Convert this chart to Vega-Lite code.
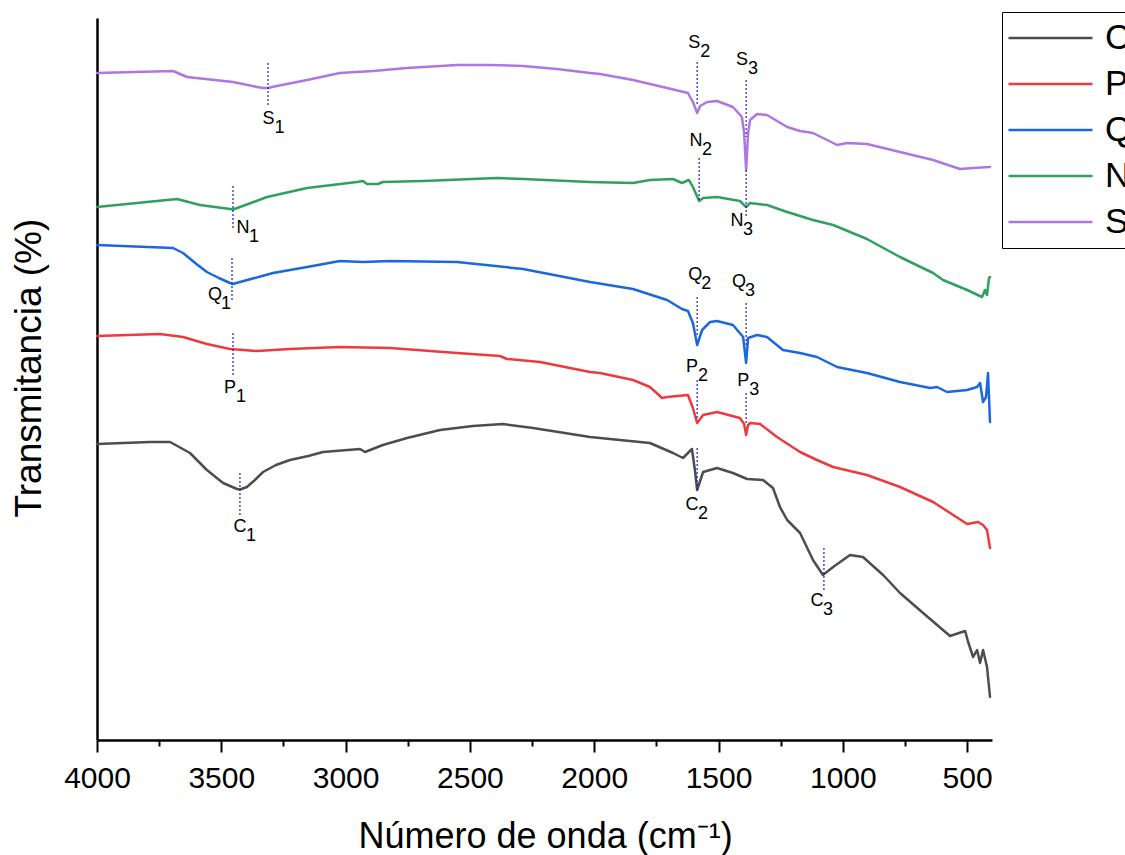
{
  "$schema": "https://vega.github.io/schema/vega-lite/v6.json",
  "width": 895,
  "height": 722,
  "autosize": {"type": "none"},
  "padding": {"left": 97, "top": 18, "right": 133, "bottom": 115},
  "background": "white",
  "config": {"view": {"stroke": null}, "font": "Liberation Sans"},
  "datasets": {
    "spectra": [
      {"s": "C", "wn": 4000, "t": 29.6}, {"s": "C", "wn": 3787, "t": 29.8}, {"s": "C", "wn": 3706, "t": 29.8}, {"s": "C", "wn": 3626, "t": 28.7},
      {"s": "C", "wn": 3558, "t": 27.0}, {"s": "C", "wn": 3493, "t": 25.7}, {"s": "C", "wn": 3437, "t": 25.1}, {"s": "C", "wn": 3425, "t": 25.05},
      {"s": "C", "wn": 3397, "t": 25.3}, {"s": "C", "wn": 3365, "t": 26.0}, {"s": "C", "wn": 3332, "t": 26.8}, {"s": "C", "wn": 3280, "t": 27.5},
      {"s": "C", "wn": 3224, "t": 28.0}, {"s": "C", "wn": 3150, "t": 28.4}, {"s": "C", "wn": 3091, "t": 28.8},
      {"s": "C", "wn": 2942, "t": 29.1}, {"s": "C", "wn": 2922, "t": 28.8}, {"s": "C", "wn": 2850, "t": 29.5}, {"s": "C", "wn": 2753, "t": 30.2},
      {"s": "C", "wn": 2620, "t": 31.0}, {"s": "C", "wn": 2488, "t": 31.4}, {"s": "C", "wn": 2367, "t": 31.6}, {"s": "C", "wn": 2246, "t": 31.2},
      {"s": "C", "wn": 2017, "t": 30.3}, {"s": "C", "wn": 1977, "t": 30.2}, {"s": "C", "wn": 1776, "t": 29.7}, {"s": "C", "wn": 1683, "t": 28.7},
      {"s": "C", "wn": 1643, "t": 28.2}, {"s": "C", "wn": 1607, "t": 29.1}, {"s": "C", "wn": 1595, "t": 27.0}, {"s": "C", "wn": 1586, "t": 25.0},
      {"s": "C", "wn": 1562, "t": 26.8}, {"s": "C", "wn": 1506, "t": 27.2}, {"s": "C", "wn": 1442, "t": 26.7}, {"s": "C", "wn": 1385, "t": 26.1},
      {"s": "C", "wn": 1321, "t": 26.0}, {"s": "C", "wn": 1281, "t": 25.2}, {"s": "C", "wn": 1253, "t": 23.3}, {"s": "C", "wn": 1224, "t": 22.0},
      {"s": "C", "wn": 1172, "t": 20.7}, {"s": "C", "wn": 1120, "t": 18.0}, {"s": "C", "wn": 1080, "t": 16.5}, {"s": "C", "wn": 1039, "t": 17.3},
      {"s": "C", "wn": 971, "t": 18.5}, {"s": "C", "wn": 919, "t": 18.3}, {"s": "C", "wn": 838, "t": 16.5}, {"s": "C", "wn": 770, "t": 14.7},
      {"s": "C", "wn": 677, "t": 12.7}, {"s": "C", "wn": 569, "t": 10.4}, {"s": "C", "wn": 508, "t": 10.9}, {"s": "C", "wn": 496, "t": 9.8},
      {"s": "C", "wn": 476, "t": 8.3}, {"s": "C", "wn": 460, "t": 9.0}, {"s": "C", "wn": 448, "t": 7.7}, {"s": "C", "wn": 436, "t": 9.0},
      {"s": "C", "wn": 420, "t": 7.3}, {"s": "C", "wn": 408, "t": 4.3},

      {"s": "P", "wn": 4000, "t": 40.4}, {"s": "P", "wn": 3747, "t": 40.6}, {"s": "P", "wn": 3654, "t": 40.3}, {"s": "P", "wn": 3558, "t": 39.6},
      {"s": "P", "wn": 3465, "t": 39.1}, {"s": "P", "wn": 3356, "t": 38.9}, {"s": "P", "wn": 3224, "t": 39.1}, {"s": "P", "wn": 3023, "t": 39.3},
      {"s": "P", "wn": 2821, "t": 39.2}, {"s": "P", "wn": 2552, "t": 38.7}, {"s": "P", "wn": 2379, "t": 38.4}, {"s": "P", "wn": 2351, "t": 38.1},
      {"s": "P", "wn": 2218, "t": 37.8}, {"s": "P", "wn": 2017, "t": 36.8}, {"s": "P", "wn": 1977, "t": 36.7}, {"s": "P", "wn": 1844, "t": 36.0},
      {"s": "P", "wn": 1776, "t": 35.3}, {"s": "P", "wn": 1727, "t": 34.2}, {"s": "P", "wn": 1707, "t": 34.3}, {"s": "P", "wn": 1623, "t": 34.5},
      {"s": "P", "wn": 1603, "t": 33.2}, {"s": "P", "wn": 1586, "t": 31.7}, {"s": "P", "wn": 1562, "t": 32.5}, {"s": "P", "wn": 1506, "t": 32.8},
      {"s": "P", "wn": 1414, "t": 32.2}, {"s": "P", "wn": 1397, "t": 31.6}, {"s": "P", "wn": 1389, "t": 30.5}, {"s": "P", "wn": 1381, "t": 31.5},
      {"s": "P", "wn": 1373, "t": 31.7}, {"s": "P", "wn": 1333, "t": 31.6}, {"s": "P", "wn": 1265, "t": 30.3}, {"s": "P", "wn": 1172, "t": 28.8},
      {"s": "P", "wn": 1104, "t": 28.0}, {"s": "P", "wn": 1039, "t": 27.3}, {"s": "P", "wn": 903, "t": 26.5}, {"s": "P", "wn": 770, "t": 25.3},
      {"s": "P", "wn": 637, "t": 23.8}, {"s": "P", "wn": 500, "t": 21.6}, {"s": "P", "wn": 456, "t": 21.8}, {"s": "P", "wn": 436, "t": 21.5},
      {"s": "P", "wn": 420, "t": 21.0}, {"s": "P", "wn": 408, "t": 19.2},

      {"s": "Q", "wn": 4000, "t": 49.5}, {"s": "Q", "wn": 3694, "t": 49.2}, {"s": "Q", "wn": 3654, "t": 48.7}, {"s": "Q", "wn": 3600, "t": 47.6},
      {"s": "Q", "wn": 3558, "t": 46.8}, {"s": "Q", "wn": 3510, "t": 46.2},
      {"s": "Q", "wn": 3465, "t": 45.7}, {"s": "Q", "wn": 3453, "t": 45.6}, {"s": "Q", "wn": 3425, "t": 45.8}, {"s": "Q", "wn": 3292, "t": 46.7},
      {"s": "Q", "wn": 3155, "t": 47.3}, {"s": "Q", "wn": 3023, "t": 47.9}, {"s": "Q", "wn": 2930, "t": 47.8}, {"s": "Q", "wn": 2821, "t": 47.9},
      {"s": "Q", "wn": 2552, "t": 47.8}, {"s": "Q", "wn": 2286, "t": 47.1}, {"s": "Q", "wn": 2017, "t": 45.8}, {"s": "Q", "wn": 1844, "t": 45.1},
      {"s": "Q", "wn": 1707, "t": 44.0}, {"s": "Q", "wn": 1647, "t": 43.1}, {"s": "Q", "wn": 1623, "t": 42.9}, {"s": "Q", "wn": 1603, "t": 41.7},
      {"s": "Q", "wn": 1586, "t": 39.5}, {"s": "Q", "wn": 1566, "t": 41.0}, {"s": "Q", "wn": 1534, "t": 41.8}, {"s": "Q", "wn": 1506, "t": 41.9},
      {"s": "Q", "wn": 1442, "t": 41.5}, {"s": "Q", "wn": 1401, "t": 40.3}, {"s": "Q", "wn": 1389, "t": 37.7}, {"s": "Q", "wn": 1381, "t": 40.2},
      {"s": "Q", "wn": 1345, "t": 40.5}, {"s": "Q", "wn": 1305, "t": 40.3}, {"s": "Q", "wn": 1241, "t": 39.0}, {"s": "Q", "wn": 1172, "t": 38.7},
      {"s": "Q", "wn": 1104, "t": 38.3}, {"s": "Q", "wn": 1023, "t": 37.3}, {"s": "Q", "wn": 903, "t": 36.7}, {"s": "Q", "wn": 770, "t": 35.8},
      {"s": "Q", "wn": 649, "t": 35.2}, {"s": "Q", "wn": 621, "t": 35.3}, {"s": "Q", "wn": 581, "t": 34.8}, {"s": "Q", "wn": 500, "t": 35.0},
      {"s": "Q", "wn": 460, "t": 35.3}, {"s": "Q", "wn": 448, "t": 35.7}, {"s": "Q", "wn": 436, "t": 33.8}, {"s": "Q", "wn": 424, "t": 34.3},
      {"s": "Q", "wn": 416, "t": 36.7}, {"s": "Q", "wn": 408, "t": 31.8},

      {"s": "N", "wn": 4000, "t": 53.3}, {"s": "N", "wn": 3678, "t": 54.1}, {"s": "N", "wn": 3586, "t": 53.5}, {"s": "N", "wn": 3465, "t": 53.1},
      {"s": "N", "wn": 3453, "t": 53.05}, {"s": "N", "wn": 3425, "t": 53.3}, {"s": "N", "wn": 3316, "t": 54.3}, {"s": "N", "wn": 3155, "t": 55.2},
      {"s": "N", "wn": 2954, "t": 55.8}, {"s": "N", "wn": 2930, "t": 55.9}, {"s": "N", "wn": 2914, "t": 55.6}, {"s": "N", "wn": 2870, "t": 55.6},
      {"s": "N", "wn": 2850, "t": 55.8}, {"s": "N", "wn": 2689, "t": 55.9}, {"s": "N", "wn": 2391, "t": 56.2}, {"s": "N", "wn": 2286, "t": 56.1},
      {"s": "N", "wn": 2017, "t": 55.8}, {"s": "N", "wn": 1844, "t": 55.7}, {"s": "N", "wn": 1776, "t": 56.0}, {"s": "N", "wn": 1683, "t": 56.1},
      {"s": "N", "wn": 1647, "t": 55.7}, {"s": "N", "wn": 1619, "t": 56.0}, {"s": "N", "wn": 1603, "t": 55.3}, {"s": "N", "wn": 1578, "t": 53.9},
      {"s": "N", "wn": 1562, "t": 54.2}, {"s": "N", "wn": 1506, "t": 54.3}, {"s": "N", "wn": 1414, "t": 53.9}, {"s": "N", "wn": 1389, "t": 53.3},
      {"s": "N", "wn": 1373, "t": 53.7}, {"s": "N", "wn": 1305, "t": 53.5}, {"s": "N", "wn": 1224, "t": 52.8}, {"s": "N", "wn": 1120, "t": 52.0},
      {"s": "N", "wn": 1039, "t": 51.5}, {"s": "N", "wn": 903, "t": 50.1}, {"s": "N", "wn": 770, "t": 48.3}, {"s": "N", "wn": 637, "t": 46.7},
      {"s": "N", "wn": 597, "t": 46.0}, {"s": "N", "wn": 500, "t": 45.0}, {"s": "N", "wn": 440, "t": 44.3}, {"s": "N", "wn": 428, "t": 45.0},
      {"s": "N", "wn": 420, "t": 44.5}, {"s": "N", "wn": 412, "t": 46.2}, {"s": "N", "wn": 408, "t": 46.3},

      {"s": "S", "wn": 4000, "t": 66.7}, {"s": "S", "wn": 3694, "t": 66.9}, {"s": "S", "wn": 3638, "t": 66.3}, {"s": "S", "wn": 3453, "t": 65.8},
      {"s": "S", "wn": 3356, "t": 65.3}, {"s": "S", "wn": 3332, "t": 65.2}, {"s": "S", "wn": 3312, "t": 65.2}, {"s": "S", "wn": 3296, "t": 65.3},
      {"s": "S", "wn": 3155, "t": 66.0}, {"s": "S", "wn": 3023, "t": 66.7}, {"s": "S", "wn": 2890, "t": 66.9}, {"s": "S", "wn": 2753, "t": 67.2},
      {"s": "S", "wn": 2552, "t": 67.5}, {"s": "S", "wn": 2419, "t": 67.5}, {"s": "S", "wn": 2286, "t": 67.4}, {"s": "S", "wn": 2150, "t": 67.1},
      {"s": "S", "wn": 2017, "t": 66.7}, {"s": "S", "wn": 1977, "t": 66.6}, {"s": "S", "wn": 1844, "t": 66.0}, {"s": "S", "wn": 1707, "t": 65.2},
      {"s": "S", "wn": 1623, "t": 64.7}, {"s": "S", "wn": 1603, "t": 63.8}, {"s": "S", "wn": 1586, "t": 62.7}, {"s": "S", "wn": 1574, "t": 63.4},
      {"s": "S", "wn": 1546, "t": 63.8}, {"s": "S", "wn": 1506, "t": 63.9}, {"s": "S", "wn": 1442, "t": 63.3}, {"s": "S", "wn": 1406, "t": 62.3},
      {"s": "S", "wn": 1397, "t": 60.7}, {"s": "S", "wn": 1389, "t": 57.0}, {"s": "S", "wn": 1381, "t": 60.7}, {"s": "S", "wn": 1373, "t": 62.0},
      {"s": "S", "wn": 1345, "t": 62.6}, {"s": "S", "wn": 1305, "t": 62.5}, {"s": "S", "wn": 1224, "t": 61.3}, {"s": "S", "wn": 1172, "t": 60.9},
      {"s": "S", "wn": 1120, "t": 60.7}, {"s": "S", "wn": 1023, "t": 59.5}, {"s": "S", "wn": 983, "t": 59.7}, {"s": "S", "wn": 903, "t": 59.6},
      {"s": "S", "wn": 770, "t": 58.8}, {"s": "S", "wn": 637, "t": 58.0}, {"s": "S", "wn": 529, "t": 57.1}, {"s": "S", "wn": 476, "t": 57.2},
      {"s": "S", "wn": 408, "t": 57.3}
    ],
    "peaks": [
      {"id": "S1", "wn": 3312, "y1": 67.7, "y2": 63.4},
      {"id": "S2", "wn": 1586, "y1": 67.8, "y2": 63.5},
      {"id": "S3", "wn": 1389, "y1": 66.0, "y2": 60.3},
      {"id": "N1", "wn": 3453, "y1": 55.4, "y2": 51.2},
      {"id": "N2", "wn": 1578, "y1": 58.2, "y2": 53.8},
      {"id": "N3", "wn": 1389, "y1": 57.0, "y2": 52.3},
      {"id": "Q1", "wn": 3457, "y1": 48.2, "y2": 43.8},
      {"id": "Q2", "wn": 1586, "y1": 44.3, "y2": 40.3},
      {"id": "Q3", "wn": 1389, "y1": 43.7, "y2": 39.3},
      {"id": "P1", "wn": 3453, "y1": 40.7, "y2": 36.3},
      {"id": "P2", "wn": 1586, "y1": 36.0, "y2": 32.0},
      {"id": "P3", "wn": 1389, "y1": 34.7, "y2": 31.5},
      {"id": "C1", "wn": 3425, "y1": 26.7, "y2": 22.5},
      {"id": "C2", "wn": 1586, "y1": 29.2, "y2": 25.0},
      {"id": "C3", "wn": 1076, "y1": 19.2, "y2": 14.8}
    ],
    "tags": [
      {"l": "S", "d": "1", "wn": 3310, "t": 62.1},
      {"l": "S", "d": "2", "wn": 1598, "t": 69.7},
      {"l": "S", "d": "3", "wn": 1406, "t": 68.0},
      {"l": "N", "d": "1", "wn": 3413, "t": 51.2},
      {"l": "N", "d": "2", "wn": 1591, "t": 59.9},
      {"l": "N", "d": "3", "wn": 1426, "t": 51.9},
      {"l": "Q", "d": "1", "wn": 3525, "t": 44.5},
      {"l": "Q", "d": "2", "wn": 1594, "t": 46.5},
      {"l": "Q", "d": "3", "wn": 1418, "t": 45.8},
      {"l": "P", "d": "1", "wn": 3465, "t": 35.2},
      {"l": "P", "d": "2", "wn": 1607, "t": 37.3},
      {"l": "P", "d": "3", "wn": 1401, "t": 35.9},
      {"l": "C", "d": "1", "wn": 3425, "t": 21.3},
      {"l": "C", "d": "2", "wn": 1607, "t": 23.5},
      {"l": "C", "d": "3", "wn": 1104, "t": 13.9}
    ]
  },
  "layer": [
    {
      "data": {"name": "spectra"},
      "mark": {"type": "line", "strokeWidth": 2.5, "strokeJoin": "round", "strokeCap": "round"},
      "encoding": {
        "x": {
          "field": "wn", "type": "quantitative",
          "scale": {"domain": [400, 4000], "reverse": true, "nice": false, "zero": false},
          "axis": {
            "orient": "bottom",
            "values": [4000, 3500, 3000, 2500, 2000, 1500, 1000, 500],
            "format": "d",
            "grid": false,
            "domainColor": "black", "domainWidth": 2.5,
            "tickColor": "black", "tickWidth": 2, "tickSize": 12,
            "labelFont": "Liberation Sans", "labelFontSize": 30, "labelColor": "black",
            "labelPadding": 11, "labelFlush": false, "labelOverlap": false,
            "title": "Número de onda (cm⁻¹)",
            "titleFont": "Liberation Sans", "titleFontSize": 36, "titleFontWeight": "normal", "titleColor": "black",
            "titleX": 261, "titleY": 107, "titleAlign": "left", "titleBaseline": "alphabetic"
          }
        },
        "y": {
          "field": "t", "type": "quantitative",
          "scale": {"domain": [0, 72.2], "nice": false, "zero": false},
          "axis": {
            "orient": "left",
            "domain": true, "domainColor": "black", "domainWidth": 2.5,
            "ticks": false, "labels": false, "grid": false,
            "title": "Transmitancia (%)",
            "titleFont": "Liberation Sans", "titleFontSize": 37, "titleFontWeight": "normal", "titleColor": "black",
            "titleAngle": -90, "titleX": -57, "titleY": 499, "titleAlign": "left", "titleBaseline": "alphabetic"
          }
        },
        "color": {
          "field": "s", "type": "nominal",
          "scale": {"domain": ["C", "P", "Q", "N", "S"], "range": ["#4d4d4d", "#ec3a3d", "#1b68dc", "#2fa060", "#b076e0"]},
          "legend": {
            "orient": "none", "legendX": 905, "legendY": -6,
            "title": null,
            "symbolType": "stroke", "symbolSize": 7056, "symbolStrokeWidth": 2.5, "symbolOffset": 2,
            "labelFont": "Liberation Sans", "labelFontSize": 35, "labelColor": "black", "labelOffset": 11,
            "padding": 3, "rowPadding": 0, "clipHeight": 45.8,
            "strokeColor": "black", "fillColor": "white"
          }
        }
      }
    },
    {
      "data": {"name": "peaks"},
      "mark": {"type": "rule", "color": "#1f1fc0", "strokeDash": [2, 2], "strokeWidth": 1.2},
      "encoding": {
        "x": {
          "field": "wn", "type": "quantitative",
          "axis": {
            "orient": "bottom",
            "values": [3750, 3250, 2750, 2250, 1750, 1250, 750],
            "labels": false, "domain": false, "grid": false,
            "tickColor": "black", "tickWidth": 2, "tickSize": 6,
            "title": null
          }
        },
        "y": {"field": "y1", "type": "quantitative"},
        "y2": {"field": "y2"}
      }
    },
    {
      "data": {"name": "tags"},
      "mark": {"type": "text", "font": "Liberation Sans", "fontSize": 18, "color": "black", "align": "center", "baseline": "middle"},
      "encoding": {
        "x": {"field": "wn", "type": "quantitative", "axis": null},
        "y": {"field": "t", "type": "quantitative"},
        "text": {"field": "l"}
      }
    },
    {
      "data": {"name": "tags"},
      "mark": {"type": "text", "font": "Liberation Sans", "fontSize": 18, "color": "black", "align": "center", "baseline": "middle", "dx": 11, "dy": 9},
      "encoding": {
        "x": {"field": "wn", "type": "quantitative", "axis": null},
        "y": {"field": "t", "type": "quantitative"},
        "text": {"field": "d"}
      }
    }
  ],
  "resolve": {"axis": {"x": "independent"}}
}
